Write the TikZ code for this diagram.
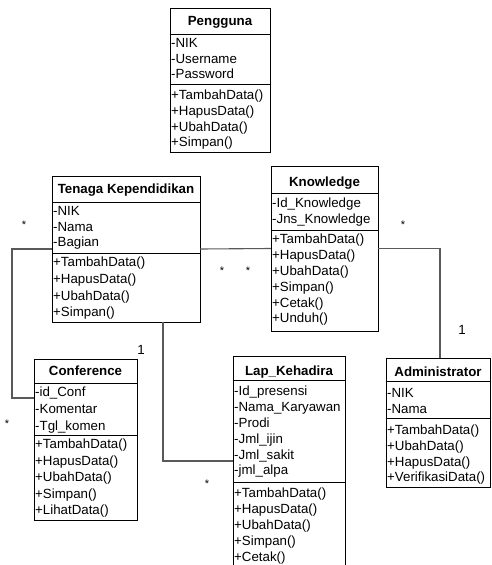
\documentclass[tikz,border=0pt]{standalone}
\usepackage{fontspec}
\setmainfont{Liberation Sans}
\usetikzlibrary{calc}
\tikzset{
  box/.style={draw=black, line width=0.9pt, inner sep=0pt, outer sep=0pt, anchor=north west},
  sepline/.style={draw=black, line width=0.9pt},
  ttl/.style={font=\fontsize{13.3}{15}\selectfont\bfseries, inner sep=0pt, anchor=base},
  itm/.style={font=\fontsize{13.3}{15}\selectfont, inner sep=0pt, anchor=base west},
  conn/.style={draw=black!65, line width=1.1pt},
  star/.style={font=\fontsize{11}{13}\selectfont, inner sep=0pt, anchor=base},
  one/.style={font=\fontsize{13.3}{15}\selectfont, inner sep=0pt, anchor=center}
}
\newcommand{\umlrows}[5]{%
  \foreach \t [count=\i] in {#5} {\node[itm, name=#1\i] at (#2, {#3+(\i-1)*#4+4.8}) {\t};}}
\begin{document}
\begin{tikzpicture}[x=1pt,y=-1pt]
\useasboundingbox (0,0) rectangle (491,565);
\clip (0,0) rectangle (491,565);

% Pengguna
\node[box, minimum width=100pt, minimum height=144pt] (peng) at (170,8) {};
\draw[sepline] (170,34) -- (270,34);
\draw[sepline] (170,84) -- (270,84);
\node[ttl] (pengt) at (220,25) {Pengguna};
\umlrows{pa}{171}{43}{15.5}{-NIK,-Username,-Password}
\umlrows{pm}{171}{95}{15.7}{+TambahData(),+HapusData(),+UbahData(),+Simpan()}

% Tenaga Kependidikan
\node[box, minimum width=148pt, minimum height=146pt] (tk) at (52,176) {};
\draw[sepline] (52,202) -- (200,202);
\draw[sepline] (52,253) -- (200,253);
\node[ttl] (tkt) at (126,193) {Tenaga Kependidikan};
\umlrows{ta}{53}{211}{15.5}{-NIK,-Nama,-Bagian}
\umlrows{tm}{53}{262}{16.7}{+TambahData(),+HapusData(),+UbahData(),+Simpan()}

% Knowledge
\node[box, minimum width=107pt, minimum height=165pt] (kn) at (271,166) {};
\draw[sepline] (271,193) -- (378,193);
\draw[sepline] (271,230) -- (378,230);
\node[ttl] (knt) at (324.5,186) {Knowledge};
\umlrows{ka}{272}{203}{16}{-Id\_Knowledge,-Jns\_Knowledge}
\umlrows{km}{272}{239}{15.8}{+TambahData(),+HapusData(),+UbahData(),+Simpan(),+Cetak(),+Unduh()}

% Conference
\node[box, minimum width=103pt, minimum height=161pt] (conf) at (34,359) {};
\draw[sepline] (34,383) -- (137,383);
\draw[sepline] (34,435) -- (137,435);
\node[ttl] (conft) at (85.5,375) {Conference};
\umlrows{ca}{35}{392}{17}{-id\_Conf,-Komentar,-Tgl\_komen}
\umlrows{cm}{35}{444}{16.5}{+TambahData(),+HapusData(),+UbahData(),+Simpan(),+LihatData()}

% Lap_Kehadira
\node[box, minimum width=112pt, minimum height=244pt] (lap) at (233,356) {};
\draw[sepline] (233,380) -- (345,380);
\draw[sepline] (233,482) -- (345,482);
\node[ttl] (lapt) at (289,375) {Lap\_Kehadira};
\umlrows{la}{234}{391}{15.8}{-Id\_presensi,-Nama\_Karyawan,-Prodi,-Jml\_ijin,-Jml\_sakit,-jml\_alpa}
\umlrows{lm}{234}{493}{15.8}{+TambahData(),+HapusData(),+UbahData(),+Simpan(),+Cetak()}

% Administrator
\node[box, minimum width=104pt, minimum height=129pt] (adm) at (386,358) {};
\draw[sepline] (386,381) -- (490,381);
\draw[sepline] (386,418) -- (490,418);
\node[ttl] (admt) at (438,376) {Administrator};
\umlrows{aa}{387}{393}{15.5}{-NIK,-Nama}
\umlrows{am}{387}{430}{15.7}{+TambahData(),+UbahData(),+HapusData(),+VerifikasiData()}

% connectors
\coordinate (cl) at (12,398);
\coordinate (y461) at (0,461);
\coordinate (tb) at ($(tk.south west)!0.75!(tk.south east)$);
\coordinate (an) at ($(adm.north)+(2,0)$);
\draw[conn] (tk.west) -| (cl) -- (conf.west |- cl);
\draw[conn] (tk.east) -- (kn.west);
\draw[conn] (kn.east) -| (an);
\draw[conn] (tb) |- (lap.west |- y461);

% multiplicities
\node[star] (s1) at (24,228.5) {*};
\node[star] (s2) at (222,274.5) {*};
\node[star] (s3) at (248,274.5) {*};
\node[star] (s4) at (403,228.5) {*};
\node[star] (s5) at (7,427.5) {*};
\node[star] (s6) at (207,487.5) {*};
\node[one] (o1) at (141,350) {1};
\node[one] (o2) at (462,330) {1};
\end{tikzpicture}
\end{document}
